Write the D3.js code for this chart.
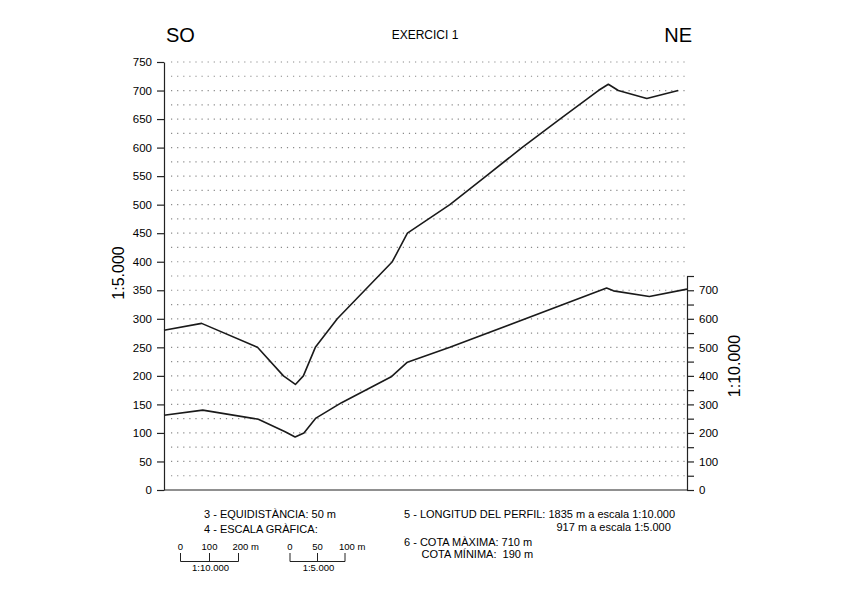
<!DOCTYPE html>
<html><head><meta charset="utf-8">
<script src="https://cdn.jsdelivr.net/npm/d3@7"></script>
<style>
body{margin:0;background:#fff;}
text{font-family:"Liberation Sans",Arial,Helvetica,sans-serif;fill:#000;white-space:pre;}
</style></head>
<body><svg id="c" width="848" height="599"></svg>
<script>
// Distance along the profile (m) and elevations
const distUpper = [0,132,328,419,461,489,531,608,801,854,1003,1130,1256,1389,1524,1559,1594,1694,1804];
const elevUpper = [280,292,250,200,185,200,250,300,400,450,500,550,600,650,700,711,700,686,700]; // 1:5.000 (left axis)
const distLower = [0,136,331,425,460,491,533,623,799,854,1003,1553,1577,1703,1835];
const elevLower = [262,280,248,204,186,200,252,306,398,448,500,708,698,678,704]; // 1:10.000 (right axis)
const leftTicks = d3.range(0,751,50);
const gridValues = d3.range(25,751,25);
const rightTicks = d3.range(0,751,50);

const svg = d3.select("#c");
const x = d3.scaleLinear().domain([0,1835]).range([164,687]);
const yL = d3.scaleLinear().domain([0,750]).range([490,62]);
const yR = d3.scaleLinear().domain([0,750]).range([490,yL(375)]);

// grid
svg.append("g").selectAll("line").data(gridValues).join("line")
  .attr("x1",171).attr("x2",688).attr("y1",d=>yL(d)).attr("y2",d=>yL(d))
  .attr("stroke","#8a8a8a").attr("stroke-width",1.2).attr("stroke-dasharray","1.2,4.9");

// left axis
const gl = svg.append("g").attr("transform","translate(164,0)")
  .call(d3.axisLeft(yL).tickValues(leftTicks).tickSize(7).tickSizeOuter(0).tickPadding(5).tickFormat(d3.format("d")));
gl.selectAll("text").style("font-size","11.5px").attr("fill","#000");
gl.selectAll("line,path").attr("stroke","#222").attr("stroke-width",1.2);

// right axis
const gr = svg.append("g").attr("transform","translate(687,0)")
  .call(d3.axisRight(yR).tickValues(rightTicks).tickSize(7).tickSizeOuter(0).tickPadding(5)
    .tickFormat(d=> d%100===0 ? d : ""));
gr.selectAll("text").style("font-size","11.5px").attr("fill","#000");
gr.selectAll("line,path").attr("stroke","#222").attr("stroke-width",1.2);

// bottom baseline
svg.append("line").attr("x1",164).attr("x2",687).attr("y1",yL(0)).attr("y2",yL(0))
  .attr("stroke","#222").attr("stroke-width",1.2);

// lines
const lineU = d3.line().x((d,i)=>x(distUpper[i])).y(d=>yL(d));
const lineLo = d3.line().x((d,i)=>x(distLower[i])).y(d=>yR(d));
svg.append("path").attr("d",lineU(elevUpper)).attr("fill","none").attr("stroke","#1a1a1a").attr("stroke-width",1.6).attr("stroke-linejoin","round");
svg.append("path").attr("d",lineLo(elevLower)).attr("fill","none").attr("stroke","#1a1a1a").attr("stroke-width",1.6).attr("stroke-linejoin","round");

// titles
svg.append("text").attr("x",166).attr("y",42).style("font-size","20px").text("SO");
svg.append("text").attr("x",692).attr("y",42).attr("text-anchor","end").style("font-size","20px").text("NE");
svg.append("text").attr("x",425).attr("y",38.5).attr("text-anchor","middle").style("font-size","12px").text("EXERCICI 1");
svg.append("text").attr("transform","translate(123.5,273) rotate(-90)").attr("text-anchor","middle").style("font-size","16px").text("1:5.000");
svg.append("text").attr("transform","translate(740,366) rotate(-90)").attr("text-anchor","middle").style("font-size","16px").text("1:10.000");

// notes
const fs="11px";
svg.append("text").attr("x",204).attr("y",518).style("font-size",fs).text("3 - EQUIDISTÀNCIA: 50 m");
svg.append("text").attr("x",204).attr("y",533).style("font-size",fs).text("4 - ESCALA GRÀFICA:");
svg.append("text").attr("x",404).attr("y",518).style("font-size",fs).text("5 - LONGITUD DEL PERFIL: 1835 m a escala 1:10.000");
svg.append("text").attr("x",556.5).attr("y",530.5).style("font-size",fs).text("917 m a escala 1:5.000");
svg.append("text").attr("x",404).attr("y",545.5).style("font-size",fs).text("6 - COTA MÀXIMA: 710 m");
svg.append("text").attr("x",421.5).attr("y",557.5).attr("xml:space","preserve").style("font-size",fs).text("COTA MÍNIMA:  190 m");

// scale bars
function scaleBar(x0, w, labels, name){
  const g = svg.append("g");
  const s = d3.scaleLinear().domain([0,2]).range([x0,x0+w]);
  g.append("path").attr("d",`M${s(0)},553V561.5H${s(2)}V553M${s(1)},553V561.5`)
    .attr("fill","none").attr("stroke","#222").attr("stroke-width",1);
  labels.forEach((l,i)=>{
    g.append("text").attr("x",s(i)).attr("y",550).attr("text-anchor", i===2?"start":"middle")
      .attr("dx", i===2?-6:0).style("font-size","9.5px").text(l);
  });
  g.append("text").attr("x",s(1)+1).attr("y",571).attr("text-anchor","middle").style("font-size","9.5px").text(name);
}
scaleBar(180.5, 58, ["0","100","200 m"], "1:10.000");
scaleBar(290, 55, ["0","50","100 m"], "1:5.000");
</script></body></html>
